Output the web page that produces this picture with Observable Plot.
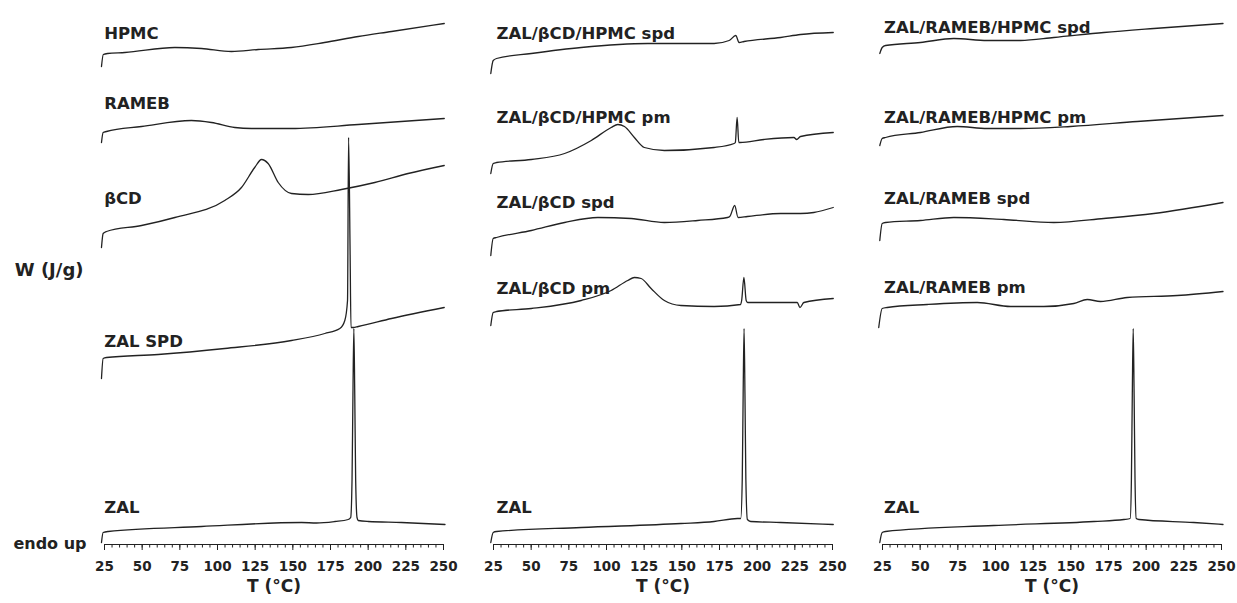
<!DOCTYPE html>
<html><head><meta charset="utf-8">
<script src="https://cdn.jsdelivr.net/npm/d3@7"></script>
<script src="https://cdn.jsdelivr.net/npm/@observablehq/plot@0.6"></script>
<style>
html,body{margin:0;padding:0;background:#fff;}
#chart{width:1237px;height:603px;overflow:hidden;}
</style></head><body><div id="chart"></div>
<script>
// Panel ids
const panels = ["A", "B", "C"];
const majorTicks = [25, 50, 75, 100, 125, 150, 175, 200, 225, 250];
const minorTicks = d3.range(25, 251, 5);

// Curves: [T (°C), W (arbitrary offset, J/g)]
// Panel A
const HPMC = [[23,47.8],[24.2,49.0],[27,49.1],[38.5,49.2],[71.7,49.7],[89.4,49.6],[109.3,49.3],[127,49.5],[149,49.7],[171,50.2],[193.4,50.8],[215.5,51.3],[250.5,52.1]];
const RAMEB = [[23,40.2],[24.1,41.2],[26.3,41.3],[49.6,41.8],[82.7,42.4],[96,42.2],[111.5,41.7],[122.6,41.6],[149.1,41.6],[193.4,42.0],[250.5,42.6]];
const BCD = [[23,29.7],[24.1,31.1],[26.3,31.3],[49.6,31.9],[71.7,32.7],[104.8,34.4],[115.9,35.7],[124.7,37.7],[129.2,38.5],[133.6,38.1],[140.3,36.2],[149.1,35.1],[160.2,35.0],[182.3,35.5],[204.4,36.2],[226.5,37.1],[250.5,37.9]];
const ZAL_SPD = [[23,16.6],[24.1,18.6],[26.3,18.7],[60.6,19.0],[104.8,19.6],[149.1,20.4],[171.2,21.1],[181.2,21.6],[184.5,22.4],[186.3,24.4],[187.0,40.7],[188.0,29.4],[188.6,21.7],[190.1,21.7],[193.4,21.8],[215.5,22.6],[250.5,23.7]];
const ZAL_A = [[23,0.2],[24.1,1.2],[27.4,1.3],[89.4,1.8],[155.8,2.2],[165.7,2.15],[177.9,2.3],[186.8,2.5],[188.4,2.7],[189.3,6.5],[189.9,15],[190.5,21.6],[191.1,15],[191.7,6.5],[192.6,2.7],[193.4,2.4],[200.1,2.3],[222.1,2.2],[251,2.0]];
// Panel B
const ZAL_BCD_HPMC_spd = [[23.2,47.1],[24.8,48.4],[27,48.6],[50.1,49.1],[83.2,49.7],[127.4,50.1],[171.4,50.1],[181.4,50.4],[185.8,50.9],[188.0,50.2],[191.3,50.3],[215.6,50.7],[228.8,51.0],[250.5,51.2]];
const ZAL_BCD_HPMC_pm = [[23.2,37.1],[24.8,38.1],[27,38.2],[50.1,38.5],[72.2,39.1],[89.9,40.4],[103.1,41.7],[107.5,42.0],[111.9,41.8],[118.5,40.7],[125.1,39.7],[138.4,39.4],[171.4,39.7],[184.7,40.1],[185.5,40.2],[186.7,42.7],[187.8,40.2],[188.6,40.2],[204.5,40.5],[224.4,40.7],[226.2,40.5],[228.8,40.8],[250.5,41.2]];
const ZAL_BCD_spd = [[23.2,28.9],[24.8,30.6],[27,30.7],[50.1,31.4],[72.2,32.2],[94.3,32.7],[116.3,32.6],[138.4,32.2],[160.5,32.4],[180.3,32.7],[181.8,32.8],[185.1,33.9],[187.3,32.7],[193.5,32.8],[215.6,33.1],[228.8,33.1],[237.6,33.2],[250.5,33.7]];
const ZAL_BCD_pm = [[23.2,21.9],[24.8,23.2],[27,23.3],[50.1,23.6],[83.2,24.4],[103.1,25.4],[114.1,26.4],[118.5,26.7],[123,26.6],[129.6,25.6],[138.4,24.4],[149.4,23.9],[171.4,23.8],[189.0,24.0],[189.7,24.4],[191.2,26.7],[192.7,24.4],[193.7,24.2],[215.6,24.2],[226.6,24.2],[228.4,23.7],[231,24.2],[250.5,24.6]];
const ZAL_B = [[23.2,0.2],[24.8,1.2],[27,1.3],[83.2,1.7],[149.4,2.1],[171.4,2.3],[186.9,2.6],[189.1,2.6],[190.1,6.5],[190.7,15],[191.3,21.6],[191.9,15],[192.5,6.5],[193.5,2.5],[195.7,2.3],[215.6,2.2],[250.5,2.0]];
// Panel C
const ZAL_RAMEB_HPMC_spd = [[23.2,49.1],[24.8,49.7],[27,49.9],[50.2,50.2],[72.3,50.6],[94.5,50.4],[116.6,50.4],[138.7,50.7],[171.9,51.2],[205.1,51.6],[251,52.1]];
const ZAL_RAMEB_HPMC_pm = [[23.2,39.9],[24.8,40.6],[27,40.7],[50.2,41.2],[74.6,41.8],[94.5,41.6],[116.6,41.6],[149.8,41.8],[194,42.3],[251,42.9]];
const ZAL_RAMEB_spd = [[23.2,30.4],[24.8,32.1],[27,32.2],[50.2,32.4],[72.3,32.7],[105.5,32.5],[138.7,32.2],[171.9,32.6],[205.1,33.1],[251,34.2]];
const ZAL_RAMEB_pm = [[22.5,21.7],[24.8,23.6],[28.1,23.7],[54.7,24.0],[87.9,24.2],[110,23.8],[132.1,23.8],[152,24.1],[160.9,24.5],[169.7,24.3],[187.4,24.7],[220.6,24.9],[251,25.3]];
const ZAL_C = [[23.2,0.2],[24.8,1.2],[27,1.3],[98.9,1.9],[165.3,2.3],[185.2,2.5],[189.4,2.6],[190.2,6.5],[190.8,15],[191.4,21.6],[192.0,15],[192.6,6.5],[193.4,2.6],[195.2,2.5],[231.6,2.2],[251,2.0]];

const series = [
  ["A","HPMC",HPMC],["A","RAMEB",RAMEB],["A","βCD",BCD],["A","ZAL SPD",ZAL_SPD],["A","ZAL",ZAL_A],
  ["B","ZAL/βCD/HPMC spd",ZAL_BCD_HPMC_spd],["B","ZAL/βCD/HPMC pm",ZAL_BCD_HPMC_pm],["B","ZAL/βCD spd",ZAL_BCD_spd],["B","ZAL/βCD pm",ZAL_BCD_pm],["B","ZAL",ZAL_B],
  ["C","ZAL/RAMEB/HPMC spd",ZAL_RAMEB_HPMC_spd],["C","ZAL/RAMEB/HPMC pm",ZAL_RAMEB_HPMC_pm],["C","ZAL/RAMEB spd",ZAL_RAMEB_spd],["C","ZAL/RAMEB pm",ZAL_RAMEB_pm],["C","ZAL",ZAL_C]
];

// Curve labels (name, level in W units) per panel
const labelsA = ["HPMC","RAMEB","βCD","ZAL SPD","ZAL"];
const levelsA = [51.1, 44.1, 34.6, 20.3, 3.7];
const labelsB = ["ZAL/βCD/HPMC spd","ZAL/βCD/HPMC pm","ZAL/βCD spd","ZAL/βCD pm","ZAL"];
const levelsB = [51.1, 42.7, 34.2, 25.6, 3.7];
const labelsC = ["ZAL/RAMEB/HPMC spd","ZAL/RAMEB/HPMC pm","ZAL/RAMEB spd","ZAL/RAMEB pm","ZAL"];
const levelsC = [51.7, 42.7, 34.6, 25.7, 3.7];
const labelStartT = [24.8, 27, 26];

const rows = [];
for (const [panel, name, pts] of series)
  for (const [T, W] of pts) rows.push({panel, sample: panel + ":" + name, T, W});

const labels = [];
[[labelsA, levelsA], [labelsB, levelsB], [labelsC, levelsC]].forEach(([names, levels], i) => {
  names.forEach((name, j) => labels.push({panel: panels[i], name, T: labelStartT[i], W: levels[j]}));
});

const ink = "#222";
const plot = Plot.plot({
  width: 1237, height: 603,
  marginLeft: 103, marginRight: 15.5, marginTop: 0, marginBottom: 59,
  style: {fontFamily: "'DejaVu Sans', sans-serif", fontWeight: "bold", color: ink, background: "#fff", overflow: "visible"},
  x: {domain: [25, 250]},
  y: {domain: [0, 54.4], axis: null},
  fx: {domain: panels, axis: null, paddingInner: 0.1284, paddingOuter: 0},
  marks: [
    Plot.ruleY([0], {stroke: ink, strokeWidth: 1.2}),
    Plot.axisX(minorTicks, {tickSize: 3.5, fill: "none", label: null, stroke: ink}),
    Plot.axisX(majorTicks, {tickSize: 6, tickPadding: 11, label: null, fontSize: 13.5, stroke: ink, fill: ink}),
    Plot.text(["T (°C)"], {frameAnchor: "bottom", dy: 47, fontSize: 17, fill: ink}),
    Plot.line(rows, {x: "T", y: "W", z: "sample", fx: "panel", stroke: ink, strokeWidth: 1.3, curve: "monotone-x"}),
    Plot.text(labels, {x: "T", y: "W", fx: "panel", text: "name", textAnchor: "start", fontSize: 16.5, fill: ink}),
    Plot.text([{panel: "A", t: "endo up"}], {fx: "panel", frameAnchor: "bottom-left", text: "t", textAnchor: "end", dx: -18, dy: 4, fontSize: 16, fill: ink}),
    Plot.text([{panel: "A", t: "W (J/g)"}], {fx: "panel", frameAnchor: "left", text: "t", textAnchor: "end", dx: -21, dy: -2, fontSize: 18, fill: ink})
  ]
});
document.getElementById("chart").appendChild(plot);
</script></body></html>
